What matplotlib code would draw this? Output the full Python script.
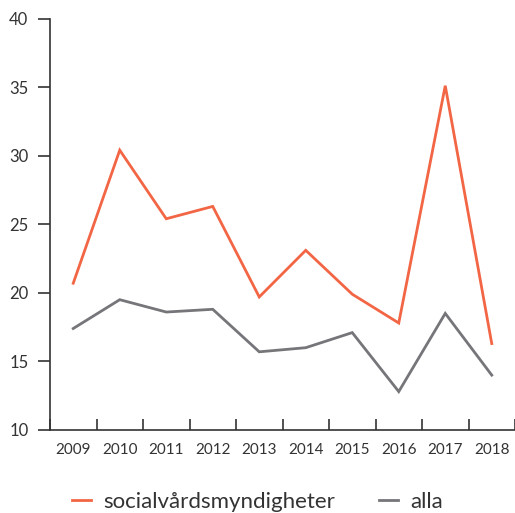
import matplotlib
matplotlib.use("Agg")
import matplotlib.pyplot as plt
import numpy as np

years = ["2009", "2010", "2011", "2012", "2013", "2014", "2015", "2016", "2017", "2018"]
social = [20.7, 30.4, 25.4, 26.3, 19.7, 23.1, 19.9, 17.8, 35.1, 16.3]
alla = [17.4, 19.5, 18.6, 18.8, 15.7, 16.0, 17.1, 12.8, 18.5, 14.0]

red = "#F26645"
grey = "#76767A"
txt = "#333333"

plt.rcParams["font.family"] = ["Lato", "DejaVu Sans"]

fig = plt.figure(figsize=(5.15, 5.13), dpi=100)
ax = fig.add_axes([50 / 515, 83 / 513, 465 / 515, 411.5 / 513])

x = np.arange(len(years))
ax.plot(x, social, color=red, lw=2.0, label="socialvårdsmyndigheter", solid_joinstyle="miter")
ax.plot(x, alla, color=grey, lw=2.0, label="alla", solid_joinstyle="miter")

ax.set_xlim(-0.5, len(years) - 0.5)
ax.set_ylim(10, 40)
ax.set_yticks(range(10, 41, 5))

ax.set_xticks(x)
ax.set_xticklabels(years)
ax.set_xticks(np.arange(-0.5, len(years)), minor=True)
ax.tick_params(axis="x", which="major", length=0, pad=9, labelsize=11, labelcolor=txt)
ax.tick_params(axis="x", which="minor", direction="in", length=8, width=1.2, color=txt)
ax.tick_params(axis="y", direction="out", length=8.5, width=1.2, color=txt, pad=7,
               labelsize=12, labelcolor=txt)

for s in ["top", "right"]:
    ax.spines[s].set_visible(False)
for s in ["left", "bottom"]:
    ax.spines[s].set_color(txt)
    ax.spines[s].set_linewidth(1.2)

fig.legend(loc="center", bbox_to_anchor=(0.5, 1 - 502 / 513), ncol=2, frameon=False,
           fontsize=16, handlelength=0.85, handletextpad=0.55, columnspacing=2.0,
           labelcolor=txt)

fig.savefig("out.png", dpi=100)
